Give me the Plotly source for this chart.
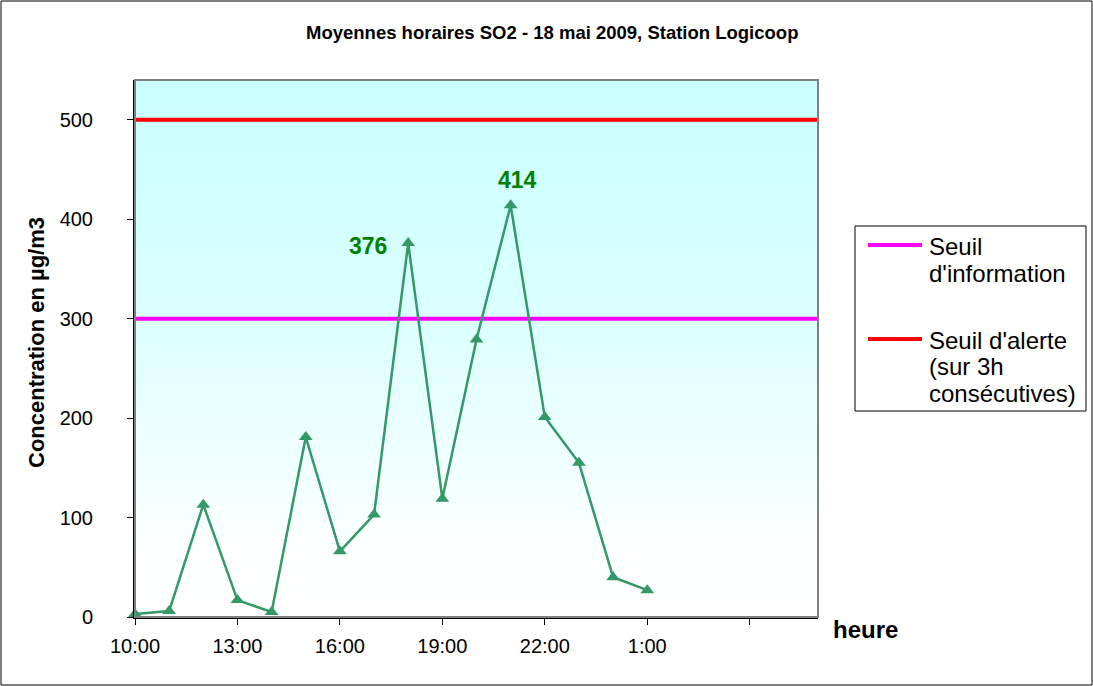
import plotly.graph_objects as go

# ---- data ----
hours = [10, 11, 12, 13, 14, 15, 16, 17, 18, 19, 20, 21, 22, 23, 24, 25]
so2 = [3, 6, 113, 17, 5, 181, 66, 103, 376, 119, 279, 414, 201, 155, 40, 27]
tick_hours = [10, 13, 16, 19, 22, 25, 28]
tick_labels = ["10:00", "13:00", "16:00", "19:00", "22:00", "1:00", ""]
y_ticks = [0, 100, 200, 300, 400, 500]
thresholds = [300, 500]
threshold_names = ["Seuil d'information", "Seuil d'alerte (sur 3h consécutives)"]
threshold_colors = ["#ff00ff", "#ff0000"]
callouts = [(18, 376), (21, 414)]

W, H = 1093, 686
L, R, T, B = 135, 275, 80, 69
pw, ph = W - L - R, H - T - B

def px(x):
    return (x - L) / pw

def py(y):
    return (H - B - y) / ph

FONT = "Liberation Sans, Arial, sans-serif"
X_RANGE = [10, 30]
Y_RANGE = [0, 540]

fig = go.Figure()

# gradient background of the plot area
fig.add_trace(go.Scatter(
    x=[X_RANGE[0], X_RANGE[1], X_RANGE[1], X_RANGE[0], X_RANGE[0]],
    y=[Y_RANGE[0], Y_RANGE[0], Y_RANGE[1], Y_RANGE[1], Y_RANGE[0]],
    mode="lines", line=dict(width=0), fill="toself",
    fillgradient=dict(type="vertical", start=Y_RANGE[0], stop=Y_RANGE[1],
                      colorscale=[[0, "#ffffff"], [0.12, "#fdffff"], [0.55, "#dcffff"], [1, "#c9ffff"]]),
    hoverinfo="skip", showlegend=False))

# threshold lines
for val, col in zip(thresholds, threshold_colors):
    fig.add_trace(go.Scatter(x=X_RANGE, y=[val, val], mode="lines",
                             line=dict(color=col, width=4), hoverinfo="skip", showlegend=False))

# SO2 series
fig.add_trace(go.Scatter(x=hours, y=so2, mode="lines+markers",
                         line=dict(color="#339966", width=2.5),
                         marker=dict(symbol="triangle-up", size=12, color="#339966"),
                         showlegend=False, cliponaxis=False))

annotations = []
# callouts
offsets = [(-40, -3), (7, 25)]
for (hx, v), (dx, dy) in zip(callouts, offsets):
    annotations.append(dict(x=hx, y=v, xref="x", yref="y", text="<b>%d</b>" % v, showarrow=False,
                            xshift=dx, yshift=dy, font=dict(family=FONT, size=23, color="#008000")))

# title
annotations.append(dict(x=px(552), y=py(32), xref="paper", yref="paper", showarrow=False,
                        text="<b>Moyennes horaires SO2 - 18 mai 2009, Station Logicoop</b>",
                        font=dict(family=FONT, size=18.5, color="black"), xanchor="center", yanchor="middle"))
# x axis title
annotations.append(dict(x=px(831), y=py(629), xref="paper", yref="paper", showarrow=False,
                        text="<b>heure</b>", font=dict(family=FONT, size=24, color="black"),
                        xanchor="left", yanchor="middle"))
# y axis title
annotations.append(dict(x=px(36), y=py(343), xref="paper", yref="paper", showarrow=False,
                        text="<b>Concentration en µg/m3</b>", textangle=-90,
                        font=dict(family=FONT, size=22, color="black"), xanchor="center", yanchor="middle"))

# legend (manual)
legend_lines = [["Seuil", "d'information"], ["Seuil d'alerte", "(sur 3h", "consécutives)"]]
legend_y = [245, 339]
shapes = []
for lines, ly, col in zip(legend_lines, legend_y, threshold_colors):
    shapes.append(dict(type="line", xref="paper", yref="paper", x0=px(868), x1=px(922),
                       y0=py(ly), y1=py(ly), line=dict(color=col, width=4)))
    for i, t in enumerate(lines):
        annotations.append(dict(x=px(927), y=py(ly + 1 + 27 * i), xref="paper", yref="paper",
                                showarrow=False, text=t, xanchor="left", yanchor="middle",
                                font=dict(family=FONT, size=24, color="black")))
shapes.append(dict(type="rect", xref="paper", yref="paper", x0=px(855), x1=px(1086),
                   y0=py(411), y1=py(226), line=dict(color="black", width=1)))
# plot area frame (gray)
shapes.append(dict(type="rect", xref="paper", yref="paper", x0=0, x1=1, y0=0, y1=1,
                   line=dict(color="#808080", width=2), layer="above"))
# outer chart border
shapes.append(dict(type="rect", xref="paper", yref="paper", x0=px(1), x1=px(1092),
                   y0=py(685), y1=py(1), line=dict(color="black", width=1)))

fig.update_layout(
    width=W, height=H,
    margin=dict(l=L, r=R, t=T, b=B),
    paper_bgcolor="white", plot_bgcolor="white",
    annotations=annotations, shapes=shapes,
    showlegend=False,
    font=dict(family=FONT, color="black"),
)
fig.update_xaxes(range=X_RANGE, tickvals=tick_hours, ticktext=tick_labels,
                 ticks="outside", ticklen=6, tickcolor="black", showgrid=False,
                 showline=True, linecolor="black", linewidth=2, zeroline=False,
                 tickfont=dict(family=FONT, size=20, color="black"), ticklabelstandoff=4)
fig.update_yaxes(range=Y_RANGE, tickvals=y_ticks, ticks="outside", ticklen=6, tickcolor="black",
                 showgrid=True, gridcolor="black", gridwidth=1, griddash="dash",
                 showline=True, linecolor="black", linewidth=2, zeroline=False,
                 tickfont=dict(family=FONT, size=20, color="black"), ticklabelstandoff=30)

fig.write_html("out.html", config={"displayModeBar": False},
               post_script="document.body.style.margin='0';document.body.style.overflow='hidden';")
